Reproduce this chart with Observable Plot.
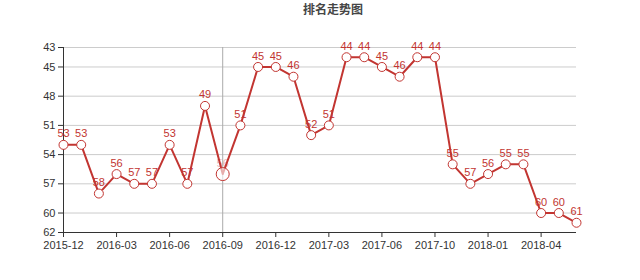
<!DOCTYPE html>
<html>
<head>
<meta charset="utf-8">
<script src="https://cdn.jsdelivr.net/npm/d3@7"></script>
<script src="https://cdn.jsdelivr.net/npm/@observablehq/plot@0.6"></script>
<style>
  body { margin: 0; background: #fff; }
  #title { height: 20px; line-height: 22px; text-align: center; padding-left: 26px;
           font: bold 12px "Noto Sans CJK SC", sans-serif; color: #464646; }
</style>
</head>
<body>
<div id="title">排名走势图</div>
<div id="chart"></div>
<script>
const months = ["2015-12","2016-01","2016-02","2016-03","2016-04","2016-05","2016-06","2016-07","2016-08","2016-09",
  "2016-10","2016-11","2016-12","2017-01","2017-02","2017-03","2017-04","2017-05","2017-06","2017-07",
  "2017-08","2017-10","2017-11","2017-12","2018-01","2018-02","2018-03","2018-04","2018-05","2018-06"];
const ranks = [53,53,58,56,57,57,53,57,49,56,51,45,45,46,52,51,44,44,45,46,44,44,55,57,56,55,55,60,60,61];
const xTickLabels = ["2015-12","2016-03","2016-06","2016-09","2016-12","2017-03","2017-06","2017-10","2018-01","2018-04"];
const yTicks = [43,45,48,51,54,57,60,62];
const hoverMonth = "2016-09";

const data = months.map((m, i) => ({month: m, rank: ranks[i]}));
const hover = data.filter(d => d.month === hoverMonth);
const red = "#c23531";

const chart = Plot.plot({
  width: 640, height: 260,
  marginTop: 27, marginBottom: 48, marginLeft: 63, marginRight: 64,
  style: {fontFamily: "'Liberation Sans', Arial, sans-serif", fontSize: "11px", color: "#333", background: "#fff"},
  x: {type: "point", domain: months, padding: 0, round: false, axis: null, label: null},
  y: {domain: [43, 62], reverse: true, axis: null, label: null},
  marks: [
    Plot.gridY(yTicks, {stroke: "#ccc", strokeOpacity: 1}),
    Plot.ruleX([hoverMonth], {stroke: "#aaa", strokeWidth: 1}),
    Plot.axisY(yTicks, {tickSize: 5, tickPadding: 3, stroke: "#333", fill: "#333", fontSize: 11, label: null}),
    Plot.axisX(xTickLabels, {tickSize: 5, tickPadding: 4, stroke: "#333", fill: "#333", fontSize: 11, label: null}),
    Plot.ruleY([62], {stroke: "#333"}),
    Plot.ruleX([months[0]], {stroke: "#333"}),
    Plot.line(data, {x: "month", y: "rank", stroke: red, strokeWidth: 2}),
    Plot.dot(data.filter(d => d.month !== hoverMonth), {x: "month", y: "rank", r: 4.5, fill: "white", stroke: red, strokeWidth: 1}),
    Plot.text(data.filter(d => d.month !== hoverMonth), {x: "month", y: "rank", text: d => String(d.rank), dy: -11, fill: red, fontSize: 11}),
    Plot.text(hover, {x: "month", y: "rank", text: d => String(d.rank), dy: -11, fill: red, fillOpacity: 0.35, fontSize: 11}),
    Plot.dot(hover, {x: "month", y: "rank", r: 6.5, fill: "white", fillOpacity: 0.6, stroke: red, strokeWidth: 1})
  ]
});
document.getElementById("chart").appendChild(chart);
</script>
</body>
</html>
